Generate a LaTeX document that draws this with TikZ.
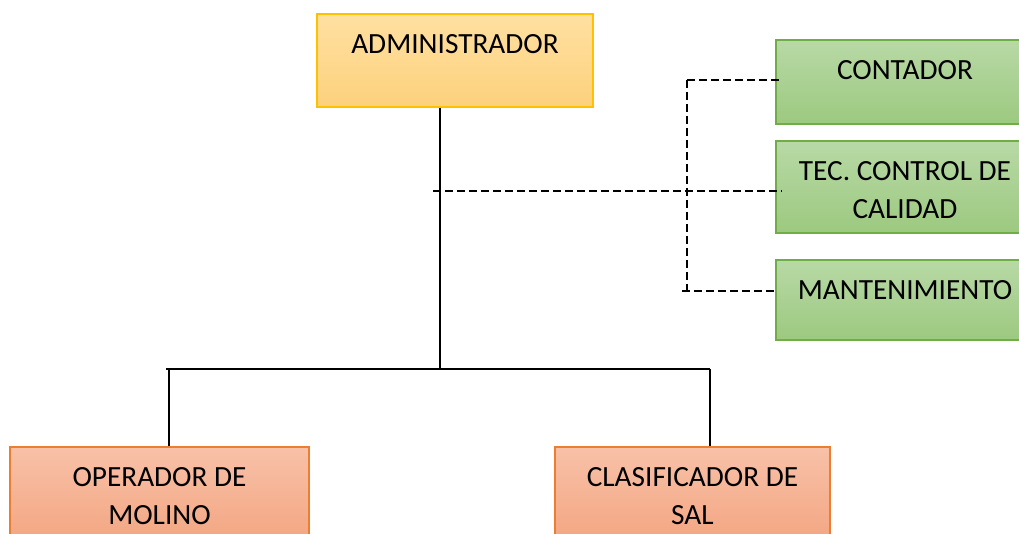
\documentclass[tikz,border=0pt]{standalone}
\usepackage{fontspec}
\setmainfont{Carlito}
\usetikzlibrary{calc}
\tikzset{every picture/.style={line width=0.75pt}}
\definecolor{admfondoA}{RGB}{255,224,162}
\definecolor{admfondoB}{RGB}{252,209,124}
\definecolor{admborde}{RGB}{255,192,0}
\definecolor{verdeA}{RGB}{184,217,166}
\definecolor{verdeB}{RGB}{156,201,128}
\definecolor{verdeborde}{RGB}{112,173,71}
\definecolor{naranjaA}{RGB}{248,193,168}
\definecolor{naranjaB}{RGB}{243,166,130}
\definecolor{naranjaborde}{RGB}{237,125,49}

\begin{document}
\begin{tikzpicture}[x=1pt, y=-1pt,
    caja/.style={rectangle, draw, line width=1.5pt, inner sep=0pt},
    texto/.style={anchor=north, yshift=-21pt, inner sep=0pt, align=center,
                  font=\fontsize{29.3}{38}\selectfont},
    linea/.style={line width=2.5pt},
    punteada/.style={line width=2.2pt, dash pattern=on 8pt off 4pt}]
    \useasboundingbox (0,0) rectangle (1019,534);
    \clip (0,0) rectangle (1019,534);
    % organigrama
    \node[caja, draw=admborde, top color=admfondoA, bottom color=admfondoB,
          minimum width=276pt, minimum height=93pt,
          label={[texto]north:ADMINISTRADOR}] (admin) at (455,60.5) {};
    \node[caja, draw=verdeborde, top color=verdeA, bottom color=verdeB,
          minimum width=258pt, minimum height=84pt,
          label={[texto]north:CONTADOR}] (cont) at (905,82) {};
    \node[caja, draw=verdeborde, top color=verdeA, bottom color=verdeB,
          minimum width=258pt, minimum height=92pt,
          label={[texto]north:TEC. CONTROL DE\\CALIDAD}] (tec) at (905,187) {};
    \node[caja, draw=verdeborde, top color=verdeA, bottom color=verdeB,
          minimum width=258pt, minimum height=80pt,
          label={[texto]north:MANTENIMIENTO}] (mant) at (905,300) {};
    \node[caja, draw=naranjaborde, top color=naranjaA, bottom color=naranjaB,
          minimum width=299pt, minimum height=95pt,
          label={[texto]north:OPERADOR DE\\MOLINO}] (oper) at (159.5,494.5) {};
    \node[caja, draw=naranjaborde, top color=naranjaA, bottom color=naranjaB,
          minimum width=275pt, minimum height=95pt,
          label={[texto]north:CLASIFICADOR DE\\SAL}] (clas) at (692.5,494.5) {};

    \coordinate (centro) at (440,369);
    \coordinate (izq) at (169,369);
    \coordinate (der) at (710,369);
    \draw[linea] (admin.south -| centro) -- (centro);
    \draw[linea] ($(izq)+(-3,0)$) -- (der);
    \draw[linea] (izq) -- (izq |- oper.north);
    \draw[linea] (der) -- (der |- clas.north);

    \coordinate (staff) at (433,191);
    \coordinate (eje) at (687,191);
    \draw[punteada] (staff) -- ($(staff -| tec.west)+(7,0)$);
    \draw[punteada] ($(eje |- cont.west)+(0,-2)$) -- ($(cont.west)+(7,-2)$);
    \draw[punteada] ($(eje |- cont.west)+(0,-2)$) -- ($(eje |- mant.west)+(0,-9)$);
    \draw[punteada] ($(eje |- mant.west)+(-5,-9)$) -- ($(mant.west)+(2,-9)$);
\end{tikzpicture}
\end{document}
